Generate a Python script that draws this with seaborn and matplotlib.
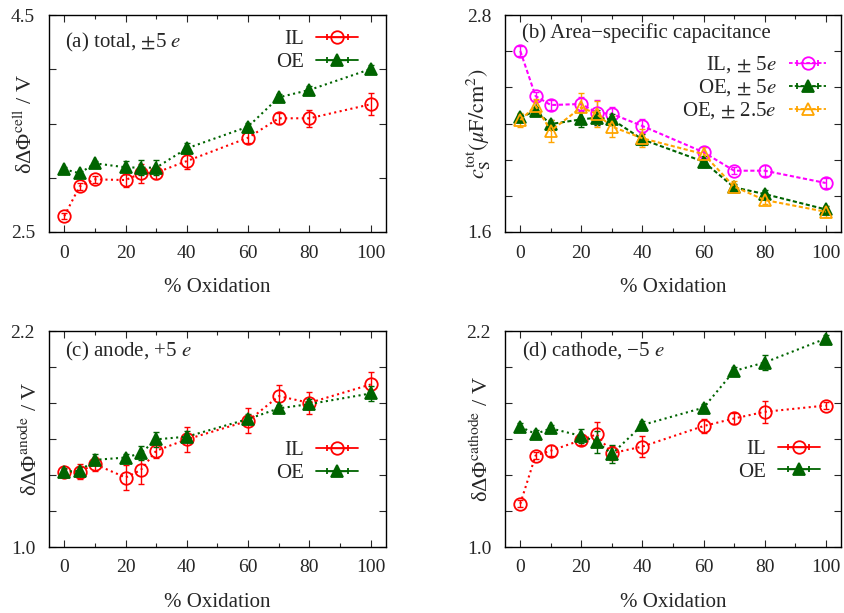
import numpy as np
import matplotlib
matplotlib.use("Agg")
import matplotlib.pyplot as plt
import seaborn as sns

# ---------------- data ----------------
oxidation = [0, 5, 10, 20, 25, 30, 40, 60, 70, 80, 100]

# (a) total cell potential
a_il = [2.647, 2.921, 2.985, 2.979, 3.041, 3.047, 3.154, 3.369, 3.548, 3.548, 3.677]
a_il_err = [0.03, 0.03, 0.03, 0.06, 0.09, 0.06, 0.07, 0.05, 0.05, 0.08, 0.10]
a_oe = [3.078, 3.041, 3.133, 3.096, 3.093, 3.093, 3.271, 3.471, 3.741, 3.809, 4.002]
a_oe_err = [0.02, 0.02, 0.02, 0.06, 0.07, 0.07, 0.05, 0.03, 0.03, 0.04, 0.04]

# (b) area-specific capacitance
b_il5 = [2.601, 2.352, 2.302, 2.308, 2.260, 2.253, 2.186, 2.041, 1.939, 1.939, 1.871]
b_il5_err = [0.03, 0.02, 0.03, 0.04, 0.07, 0.04, 0.04, 0.03, 0.02, 0.03, 0.03]
b_oe5 = [2.234, 2.269, 2.197, 2.223, 2.232, 2.223, 2.112, 1.989, 1.847, 1.810, 1.725]
b_oe5_err = [0.02, 0.02, 0.02, 0.04, 0.04, 0.03, 0.03, 0.03, 0.02, 0.02, 0.02]
b_oe25 = [2.219, 2.297, 2.160, 2.289, 2.253, 2.183, 2.118, 2.031, 1.851, 1.777, 1.712]
b_oe25_err = [0.04, 0.04, 0.06, 0.08, 0.07, 0.06, 0.05, 0.04, 0.03, 0.02, 0.03]

# (c) anode
c_il = [1.415, 1.419, 1.460, 1.386, 1.428, 1.535, 1.598, 1.701, 1.838, 1.801, 1.903]
c_il_err = [0.02, 0.04, 0.04, 0.07, 0.08, 0.04, 0.07, 0.07, 0.06, 0.06, 0.07]
c_oe = [1.419, 1.423, 1.484, 1.497, 1.521, 1.598, 1.613, 1.711, 1.770, 1.794, 1.853]
c_oe_err = [0.02, 0.02, 0.03, 0.02, 0.04, 0.04, 0.03, 0.03, 0.02, 0.03, 0.04]

# (d) cathode
d_il = [1.240, 1.508, 1.535, 1.594, 1.626, 1.521, 1.558, 1.672, 1.714, 1.751, 1.786]
d_il_err = [0.02, 0.02, 0.03, 0.03, 0.07, 0.04, 0.06, 0.04, 0.03, 0.06, 0.02]
d_oe = [1.668, 1.628, 1.659, 1.617, 1.585, 1.517, 1.678, 1.774, 1.978, 2.025, 2.158]
d_oe_err = [0.02, 0.02, 0.02, 0.04, 0.06, 0.05, 0.02, 0.02, 0.02, 0.04, 0.02]

x_ticks = [0, 20, 40, 60, 80, 100]
x_label = "% Oxidation"

# ---------------- style ----------------
sns.set_theme(style="ticks")
plt.rcParams["font.family"] = ["Liberation Serif", "DejaVu Serif"]
plt.rcParams["mathtext.fontset"] = "stix"
plt.rcParams["axes.linewidth"] = 1.0

RED = "#ff0000"
GREEN = "#006400"
MAGENTA = "#ff00ff"
ORANGE = "#ffa500"

fig = plt.figure(figsize=(8.45, 6.13), dpi=100)
W, H = 845, 613
def rect(l, t, r, b):
    return [l / W, 1 - b / H, (r - l) / W, (b - t) / H]

ax_a = fig.add_axes(rect(49, 15, 386, 232))
ax_b = fig.add_axes(rect(505, 15, 841, 232))
ax_c = fig.add_axes(rect(49, 331, 386, 547))
ax_d = fig.add_axes(rect(505, 331, 841, 547))


def series(ax, y, err, color, marker, filled, ms, ls=":", lw=1.5):
    sns.lineplot(x=oxidation, y=y, ax=ax, color=color, linestyle=ls, linewidth=lw,
                 marker=marker, markersize=ms,
                 markerfacecolor=color if filled else "none",
                 markeredgecolor=color, markeredgewidth=1.3,
                 legend=False, zorder=3)
    ax.errorbar(oxidation, y, yerr=err, fmt="none", ecolor=color,
                elinewidth=1.0, capsize=2, capthick=1.0, zorder=2)


def legend_handle(ax, color, marker, filled, ms, ls):
    h = ax.errorbar([np.nan], [np.nan], xerr=[1.0], color=color, linestyle=ls,
                    linewidth=1.3, marker=marker, markersize=ms,
                    markerfacecolor=color if filled else "none",
                    markeredgecolor=color, markeredgewidth=1.3,
                    elinewidth=1.0, capsize=2.5, capthick=1.0)
    return h


def style_axis(ax, ylim, yticks, ylabel, label_x):
    ax.set_xlim(-5, 105)
    ax.set_ylim(*ylim)
    ax.set_xticks(x_ticks)
    ax.set_xticks([10, 30, 50, 70, 90], minor=True)
    ax.set_xticklabels([str(v) for v in x_ticks])
    ax.set_yticks(yticks)
    labels = [""] * len(yticks)
    labels[0] = f"{yticks[0]:.1f}"
    labels[-1] = f"{yticks[-1]:.1f}"
    ax.set_yticklabels(labels)
    ax.tick_params(which="major", direction="in", length=5, width=0.8,
                   top=True, right=True, labelsize=14)
    ax.tick_params(which="minor", direction="in", length=3, width=0.8,
                   top=True, right=True)
    ax.tick_params(axis="x", which="major", pad=9)
    ax.tick_params(axis="y", which="major", pad=10)
    ax.set_xlabel(x_label, fontsize=15, labelpad=12)
    ax.set_ylabel(ylabel, fontsize=16)
    ax.yaxis.set_label_coords(label_x, 0.5)
    for s in ax.spines.values():
        s.set_visible(True)
        s.set_linewidth(1.0)
        s.set_color("black")


LEG = dict(frameon=False, markerfirst=False, fontsize=15,
           handletextpad=0.6, borderaxespad=0.3)

# ---------- (a) ----------
series(ax_a, a_il, a_il_err, RED, "o", False, 9)
series(ax_a, a_oe, a_oe_err, GREEN, "^", True, 8)
h1 = legend_handle(ax_a, RED, "o", False, 9, "-")
h2 = legend_handle(ax_a, GREEN, "^", True, 8, "-")
style_axis(ax_a, (2.5, 4.5), [2.5, 3.0, 3.5, 4.0, 4.5],
           "\u03b4\u0394\u03a6$^{\\rm cell}$ / V", -0.035)
ax_a.text(0.047, 0.875, r"(a) total, $\pm$5 $e$", transform=ax_a.transAxes,
          fontsize=15, va="center", ha="left")
ax_a.legend([h1, h2], ["IL", "OE"], loc="upper right", bbox_to_anchor=(0.96, 1.0),
            labelspacing=0.15, handlelength=2.0, **LEG)

# ---------- (b) ----------
DASH = (0, (2, 1.2))
series(ax_b, b_il5, b_il5_err, MAGENTA, "o", False, 9, ls=DASH)
series(ax_b, b_oe5, b_oe5_err, GREEN, "^", True, 8, ls=DASH)
series(ax_b, b_oe25, b_oe25_err, ORANGE, "^", False, 9, ls=DASH)
g1 = legend_handle(ax_b, MAGENTA, "o", False, 9, DASH)
g2 = legend_handle(ax_b, GREEN, "^", True, 8, DASH)
g3 = legend_handle(ax_b, ORANGE, "^", False, 9, DASH)
style_axis(ax_b, (1.6, 2.8), [1.6, 1.8, 2.0, 2.2, 2.4, 2.6, 2.8],
           r"$c_{\rm S}^{\rm tot}(\mu{\rm F/cm}^2)$", -0.035)
ax_b.text(0.05, 0.915, "(b) Area\u2212specific capacitance", transform=ax_b.transAxes,
          fontsize=15, va="center", ha="left")
ax_b.legend([g1, g2, g3], [r"IL, $\pm$ 5$e$", r"OE, $\pm$ 5$e$", r"OE, $\pm$ 2.5$e$"],
            loc="upper right", bbox_to_anchor=(1.0, 0.885),
            labelspacing=0.1, handlelength=1.8, **LEG)

# ---------- (c) ----------
series(ax_c, c_il, c_il_err, RED, "o", False, 9)
series(ax_c, c_oe, c_oe_err, GREEN, "^", True, 8)
k1 = legend_handle(ax_c, RED, "o", False, 9, "-")
k2 = legend_handle(ax_c, GREEN, "^", True, 8, "-")
style_axis(ax_c, (1.0, 2.2), [1.0, 1.2, 1.4, 1.6, 1.8, 2.0, 2.2],
           "\u03b4\u0394\u03a6$^{\\rm anode}$ / V", -0.02)
ax_c.text(0.047, 0.905, r"(c) anode, +5 $e$", transform=ax_c.transAxes,
          fontsize=15, va="center", ha="left")
ax_c.legend([k1, k2], ["IL", "OE"], loc="center right", bbox_to_anchor=(0.96, 0.395),
            labelspacing=0.15, handlelength=2.0, **LEG)

# ---------- (d) ----------
series(ax_d, d_il, d_il_err, RED, "o", False, 9)
series(ax_d, d_oe, d_oe_err, GREEN, "^", True, 8)
m1 = legend_handle(ax_d, RED, "o", False, 9, "-")
m2 = legend_handle(ax_d, GREEN, "^", True, 8, "-")
style_axis(ax_d, (1.0, 2.2), [1.0, 1.2, 1.4, 1.6, 1.8, 2.0, 2.2],
           "\u03b4\u0394\u03a6$^{\\rm cathode}$ / V", -0.035)
ax_d.text(0.05, 0.905, "(d) cathode, \u22125 $e$", transform=ax_d.transAxes,
          fontsize=15, va="center", ha="left")
ax_d.legend([m1, m2], ["IL", "OE"], loc="center right", bbox_to_anchor=(0.98, 0.40),
            labelspacing=0.15, handlelength=2.0, **LEG)

fig.savefig("out.png", dpi=100)
